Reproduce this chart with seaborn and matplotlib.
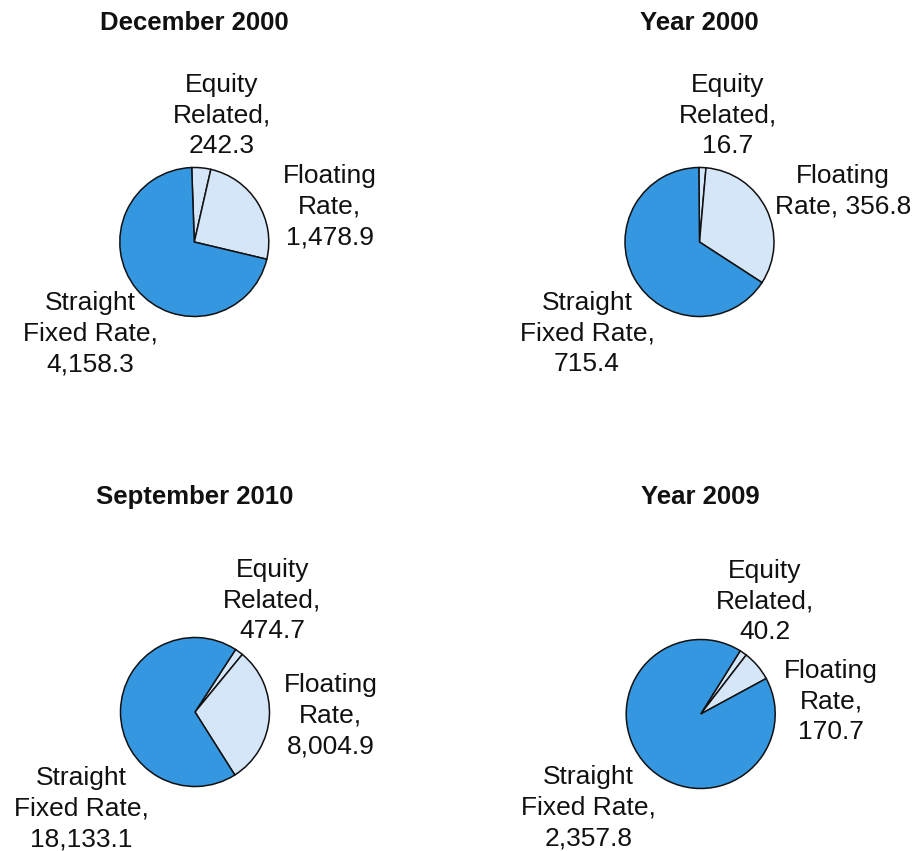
import numpy as np
import matplotlib
matplotlib.use("Agg")
import matplotlib.pyplot as plt
import seaborn as sns

# ---------------- data ----------------
titles = ["December 2000", "Year 2000", "September 2010", "Year 2009"]
equity = [242.3, 16.7, 474.7, 40.2]
floating = [1478.9, 356.8, 8004.9, 170.7]
straight = [4158.3, 715.4, 18133.1, 2357.8]

equity_fmt = ["Equity\nRelated,\n{}"] * 4
floating_fmt = ["Floating\nRate,\n{}", "Floating\nRate, {}", "Floating\nRate,\n{}", "Floating\nRate,\n{}"]
straight_fmt = ["Straight\nFixed Rate,\n{}"] * 4

# ---------------- style ----------------
sns.set_theme(style="white")
plt.rcParams["font.family"] = ["Liberation Sans", "DejaVu Sans"]

dark_blue = "#3497e0"
light_blue = "#d5e6f9"

W, H = 914, 851
fig = plt.figure(figsize=(W / 100, H / 100), dpi=100)

# pie centres / radius in pixels (layout only)
centres = [(194.3, 242), (699.5, 242), (195, 712), (700.7, 714)]
radius = 74.5
starts = [92, 90.5, 57, 58]
title_y = [23, 23, 497, 497]

# label offsets in pie radii
eq_pos = [(0.37, 1.70), (0.38, 1.70), (1.04, 1.50), (0.86, 1.51)]
fl_pos = [(1.82, 0.47), (1.93, 0.68), (1.82, -0.05), (1.75, 0.17)]
st_pos = [(-1.40, -1.23), (-1.51, -1.23), (-1.53, -1.30), (-1.51, -1.26)]

for i in range(4):
    cx, cy = centres[i]
    ax = fig.add_axes([(cx - radius) / W, (H - cy - radius) / H,
                       2 * radius / W, 2 * radius / H])
    vals = [equity[i], floating[i], straight[i]]
    ax.pie(vals, colors=[light_blue, light_blue, dark_blue],
           startangle=starts[i], counterclock=False, radius=1,
           wedgeprops=dict(edgecolor="#111111", linewidth=1.1))
    ax.set_xlim(-1, 1)
    ax.set_ylim(-1, 1)
    ax.set_aspect("equal")
    ax.axis("off")

    fmt = lambda v: f"{v:,.1f}"
    txt = dict(ha="center", va="center", fontsize=19, color="#111111",
               linespacing=1.35, clip_on=False)
    ax.text(*eq_pos[i], equity_fmt[i].format(fmt(equity[i])), **txt)
    ax.text(*fl_pos[i], floating_fmt[i].format(fmt(floating[i])), **txt)
    ax.text(*st_pos[i], straight_fmt[i].format(fmt(straight[i])), **txt)

    fig.text(cx / W, 1 - title_y[i] / H, titles[i], ha="center", va="center",
             fontsize=18.5, fontweight="bold", color="#111111")

fig.savefig("out.png", dpi=100)
